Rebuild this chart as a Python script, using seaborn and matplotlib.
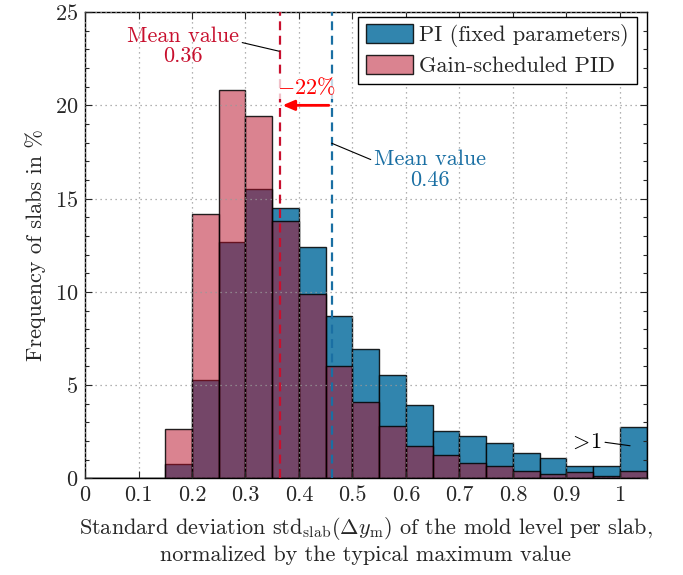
import numpy as np
import pandas as pd
import matplotlib
matplotlib.use("Agg")
import matplotlib.pyplot as plt
import seaborn as sns
from matplotlib.ticker import MultipleLocator

# ---- data (bar heights in %, bins of width 0.05 from 0 to 1.05) ----
bin_edges = [round(0.05 * i, 2) for i in range(22)]
pi_fixed = [0, 0, 0, 0.77, 5.27, 12.69, 15.53, 14.50, 12.43, 8.71, 6.96,
            5.52, 3.96, 2.55, 2.27, 1.89, 1.37, 1.12, 0.67, 0.67, 2.76]
gain_sched = [0, 0, 0, 2.64, 14.17, 20.84, 19.44, 13.78, 9.86, 6.00, 4.07,
              2.79, 1.75, 1.23, 0.80, 0.64, 0.37, 0.25, 0.32, 0.12, 0.39]
mean_pid = 0.364
mean_pi = 0.461
series_names = ["PI (fixed parameters)", "Gain-scheduled PID"]

centers = [(bin_edges[i] + bin_edges[i + 1]) / 2 for i in range(len(bin_edges) - 1)]
df = pd.DataFrame({"x": centers, "pi": pi_fixed, "gs": gain_sched})

sns.set_style("ticks")
plt.rcParams["font.family"] = "serif"
plt.rcParams["font.serif"] = ["cmr10", "DejaVu Serif"]
plt.rcParams["mathtext.fontset"] = "cm"
plt.rcParams["axes.formatter.use_mathtext"] = True
plt.rcParams["axes.unicode_minus"] = False

FS = 16
BLUE = (49 / 255, 133 / 255, 174 / 255)
RED = (183 / 255, 9 / 255, 35 / 255)
BLUE_LINE = "#1a6fa3"
RED_LINE = "#c8102e"

fig = plt.figure(figsize=(6.83, 5.75), dpi=100)
ax = fig.add_axes([0.1245, 0.168, 0.8223, 0.811])

sns.histplot(data=df, x="x", weights="pi", bins=bin_edges, ax=ax,
             color=BLUE, alpha=1.0, edgecolor="black", linewidth=1.0,
             label=series_names[0])
n_pi = len(ax.patches)
sns.histplot(data=df, x="x", weights="gs", bins=bin_edges, ax=ax,
             color=RED, alpha=1.0, edgecolor="black", linewidth=1.0,
             label=series_names[1])
for p in ax.patches[n_pi:]:
    p.set_facecolor((*RED, 0.5))
    p.set_edgecolor((0, 0, 0, 0.85))
for p in ax.patches[:n_pi]:
    p.set_edgecolor((0, 0, 0, 0.85))

ax.set_xlim(0, 1.05)
ax.set_ylim(0, 25)

# grid
ax.set_axisbelow(False)
ax.xaxis.set_major_locator(MultipleLocator(0.1))
ax.yaxis.set_major_locator(MultipleLocator(5))
ax.yaxis.set_minor_locator(MultipleLocator(1))
ax.grid(True, which="major", linestyle=(0, (1, 3)), color="#999999", linewidth=0.9)
ax.set_xticks([round(0.1 * i, 1) for i in range(11)])
ax.set_xticklabels(["0"] + [f"{0.1 * i:.1f}" for i in range(1, 10)] + ["1"])
ax.tick_params(which="both", direction="in", top=True, right=True, labelsize=FS)
ax.tick_params(which="major", length=5, width=0.8, pad=5)
ax.tick_params(which="minor", length=3, width=0.8)
ax.tick_params(axis="x", which="minor", bottom=False, top=False)
for s in ax.spines.values():
    s.set_linewidth(1.0)
    s.set_color("black")

# mean lines
ax.axvline(mean_pid, color=RED_LINE, linestyle=(0, (4, 2.5)), linewidth=1.6, zorder=5)
ax.axvline(mean_pi, color=BLUE_LINE, linestyle=(0, (4, 2.5)), linewidth=1.6, zorder=5)

# arrow and percentage
ax.annotate("", xy=(mean_pid, 20), xytext=(mean_pi, 20),
            arrowprops=dict(arrowstyle="-|>,head_length=0.7,head_width=0.3",
                            color="red", lw=2), zorder=6)
ax.text(0.414, 20.95, r"$-22\%$", color="red", fontsize=FS, ha="center", va="center",
        bbox=dict(facecolor="white", edgecolor="none", alpha=0.75, pad=0.5), zorder=6)

# mean annotations
ax.annotate("Mean value\n0.36", xy=(0.363, 22.9), xytext=(0.183, 23.15),
            color=RED_LINE, fontsize=FS, ha="center", va="center", linespacing=1.05,
            arrowprops=dict(arrowstyle="-", color="black", lw=0.8,
                            shrinkA=0, shrinkB=0, relpos=(1.0, 0.62)), zorder=7)
ax.annotate("Mean value\n0.46", xy=(0.461, 17.97), xytext=(0.645, 16.55),
            color=BLUE_LINE, fontsize=FS, ha="center", va="center", linespacing=1.05,
            arrowprops=dict(arrowstyle="-", color="black", lw=0.8,
                            shrinkA=0, shrinkB=0, relpos=(0.0, 0.72)), zorder=7)
ax.annotate(r"$>\!1$", xy=(1.019, 1.75), xytext=(0.935, 1.96),
            color="black", fontsize=FS, ha="center", va="center",
            arrowprops=dict(arrowstyle="-", color="black", lw=0.8,
                            shrinkA=0, shrinkB=0, relpos=(1.0, 0.5)), zorder=7)

leg = ax.legend(loc="upper right", fontsize=FS, frameon=True, fancybox=False,
                edgecolor="black", framealpha=1, borderpad=0.35, labelspacing=0.35,
                handlelength=2.1, handleheight=0.9, handletextpad=0.3,
                borderaxespad=0.2, bbox_to_anchor=(0.99, 1.0))
leg.get_frame().set_linewidth(1.0)
for h in leg.legend_handles[1:]:
    h.set_facecolor((*RED, 0.5))
leg.set_zorder(10)

ax.set_ylabel("Frequency of slabs in %", fontsize=FS, labelpad=6)
ax.set_xlabel("Standard deviation $\\mathrm{std}_{\\mathrm{slab}}(\\Delta y_{\\mathrm{m}})$ "
              "of the mold level per slab,\nnormalized by the typical maximum value",
              fontsize=FS, labelpad=7, linespacing=1.25)

fig.savefig("out.png", dpi=100)
